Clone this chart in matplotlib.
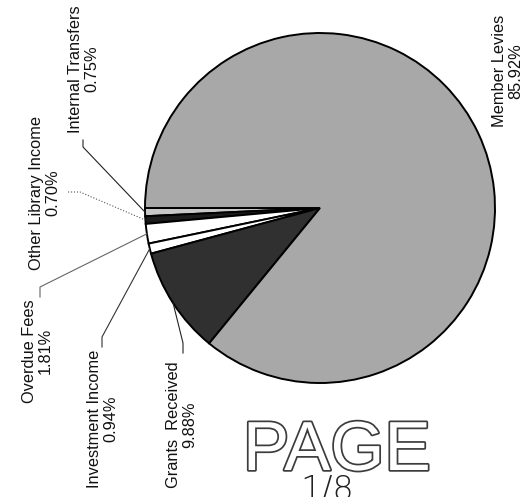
"""스캔된 수입 구성 파이차트 재현 (라벨은 90도 회전)."""
import matplotlib

matplotlib.use("Agg")
import matplotlib.patheffects as pe
import matplotlib.pyplot as plt
import numpy as np

plt.rcParams["font.family"] = ["Liberation Sans", "DejaVu Sans"]

categories = [
    "Internal Transfers",
    "Other Library Income",
    "Overdue Fees",
    "Investment Income",
    "Grants  Received",
    "Member Levies",
]
shares = [0.75, 0.70, 1.81, 0.94, 9.88, 85.92]
pct_labels = ["0.75%", "0.70%", "1.81%", "0.94%", "9.88%", "85.92%"]
colors = ["#c8c8c8", "#1c1c1c", "#ffffff", "#ffffff", "#303030", "#a8a8a8"]

# 라벨 중심 위치 (이미지 픽셀 좌표, y는 아래로 증가)
label_xy = [(83.5, 69), (45, 193), (37.5, 351), (102.5, 419), (181.5, 425), (508, 71)]
# 지시선 시작점 -> 꺾임점, 스타일 (None 이면 지시선 없음)
leader_start = [(83, 140), (68, 192), (40, 297), (102, 347), (183, 353), None]
leader_bend = [(83, 147), (80, 192), (40, 287), (102, 337), (183, 343), None]
leader_style = ["-", ":", "-", "-", "-", None]
leader_color = ["#222222", "#555555", "#666666", "#333333", "#222222", None]

W, H = 524, 497
CENTER = (320, 208)
RADIUS = 175

fig = plt.figure(figsize=(W / 100, H / 100), dpi=100)
ax = fig.add_axes([0, 0, 1, 1])

# y축을 뒤집어 쓰므로 counterclock=False 가 화면상 반시계 방향
wedges, _ = ax.pie(
    shares,
    colors=colors,
    startangle=180,
    counterclock=False,
    center=CENTER,
    radius=RADIUS,
    wedgeprops=dict(edgecolor="black", linewidth=1.4),
)
ax.set_xlim(0, W)
ax.set_ylim(H, 0)
ax.set_aspect("auto")
ax.axis("off")

for i, w in enumerate(wedges):
    x, y = label_xy[i]
    ax.text(
        x, y, f"{categories[i]}\n{pct_labels[i]}",
        rotation=90, ha="center", va="center", multialignment="center",
        fontsize=11.8, linespacing=1.1, color="#111111",
    )
    if leader_start[i] is None:
        continue
    mid = np.deg2rad((w.theta1 + w.theta2) / 2)
    px = w.center[0] + w.r * np.cos(mid)
    py = w.center[1] + w.r * np.sin(mid)
    (sx, sy), (bx, by) = leader_start[i], leader_bend[i]
    ax.plot([sx, bx, px], [sy, by, py], linestyle=leader_style[i],
            color=leader_color[i], linewidth=0.8)

# 스캔 위 스탬프 + 손글씨 페이지 번호 (아래가 잘림)
ax.text(337, 470, "PAGE", fontsize=50, ha="center", va="baseline",
        color="white",
        path_effects=[pe.withStroke(linewidth=2.5, foreground="#3c3c3c")])
ax.text(300, 474, "1/8", fontsize=24, ha="left", va="top",
        color="#222222", family="DejaVu Sans", fontweight="light")

fig.savefig("out.png", dpi=100)
